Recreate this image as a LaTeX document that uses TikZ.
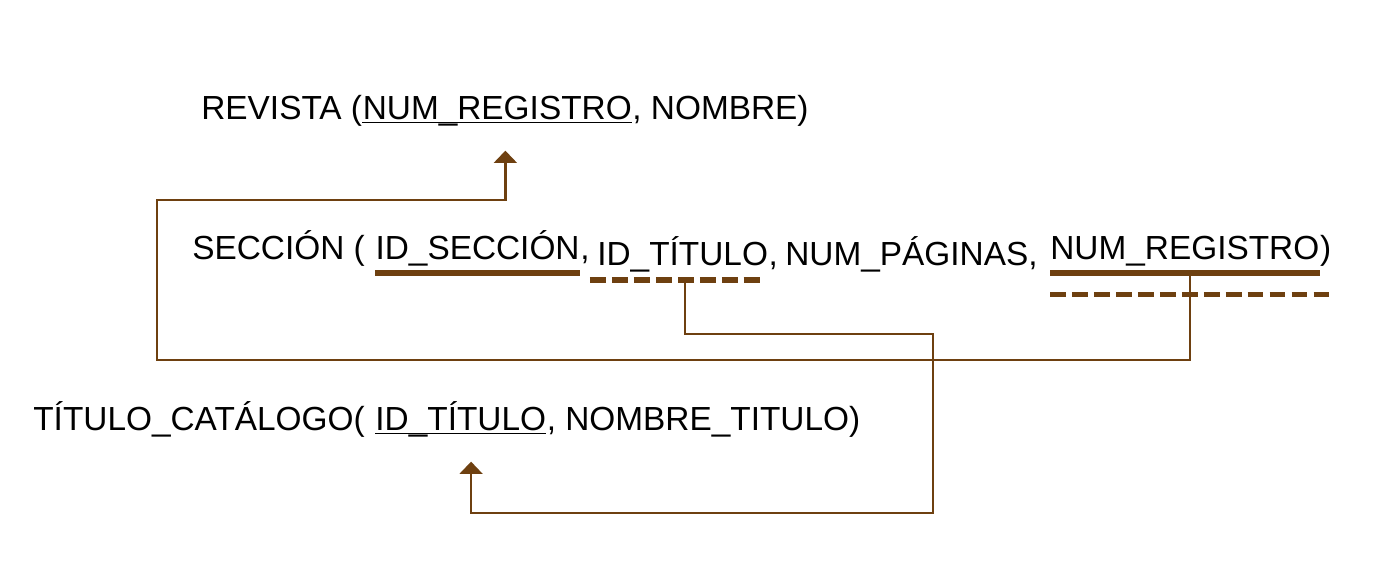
\documentclass[tikz,border=0pt]{standalone}
\usepackage{fontspec}
\setmainfont{Liberation Sans}
\usetikzlibrary{positioning,arrows.meta}
\definecolor{cafe}{RGB}{110,64,16}
\tikzset{
	campo/.style={inner sep=0pt, font=\fontsize{19}{22}\selectfont, anchor=base west},
	enlace/.style={draw=cafe, line width=1.4pt},
	flecha/.style={-{Triangle[length=7pt,width=13pt]}},
	clave/.style={draw=cafe, line width=3pt},
	foranea/.style={draw=cafe, line width=3pt, dash pattern=on 9pt off 3.5pt},
	subraya/.style={draw=black, line width=0.9pt}
}
\begin{document}
\begin{tikzpicture}[x=0.02cm, y=-0.02cm, line join=miter]
	\useasboundingbox (0,0) rectangle (1398,569);
	% REVISTA
	\node[campo] (rev) at (201,119) {REVISTA (};
	\node[campo] (revnum) at (rev.base east) {NUM\_REGISTRO};
	\node[campo] (revfin) at (revnum.base east) {,\ NOMBRE)};
	\draw[subraya] ([yshift=-2pt]revnum.base west) -- ([yshift=-2pt]revnum.base east);
	\path ([yshift=-18pt]revnum.base west) -- coordinate[pos=.53] (revpunta) ([yshift=-18pt]revnum.base east);
	% SECCION
	\node[campo] (sec) at (192,259) {SECCIÓN (\kern.3em};
	\node[campo] (secid) at (sec.base east) {ID\_SECCIÓN};
	\node[campo] (secc) at (secid.base east) {,};
	\node[campo] (sectit) at (597,265) {ID\_TÍTULO};
	\node[campo] (sectc) at (sectit.base east) {,};
	\node[campo] (secpag) at (785,265) {NUM\_PÁGINAS,};
	\node[campo] (secreg) at (1050,259) {NUM\_REGISTRO};
	\node[campo] (secfin) at (secreg.base east) {)};
	\draw[clave] ([yshift=-8pt]secid.base west) -- ([yshift=-8pt]secid.base east);
	\draw[foranea] ([shift={(-4pt,-8.5pt)}]sectit.base west) -- coordinate[pos=.55] (titmid) ([shift={(-3pt,-8.5pt)}]sectit.base east);
	\draw[clave] ([yshift=-8pt]secreg.base west) -- coordinate[pos=.52] (regmid) ([yshift=-8pt]secreg.base east);
	\draw[foranea] ([yshift=-20pt]secreg.base west) -- ([yshift=-20pt]secfin.base east);
	% TITULO_CATALOGO
	\node[campo] (cat) at (33,430) {TÍTULO\_CATÁLOGO(\kern.3em};
	\node[campo] (catid) at (cat.base east) {ID\_TÍTULO};
	\node[campo] (catfin) at (catid.base east) {,\ NOMBRE\_TITULO)};
	\draw[subraya] ([yshift=-2pt]catid.base west) -- ([yshift=-2pt]catid.base east);
	\path ([yshift=-18pt]catid.base west) -- coordinate[pos=.56] (catpunta) ([yshift=-18pt]catid.base east);
	% enlaces
	\coordinate (esq1) at (157,360);
	\coordinate (esq2) at (157,200);
	\coordinate (esq3) at (933,334);
	\coordinate (esq4) at (933,513);
	\draw[enlace, flecha] (regmid) |- (esq1) -- (esq2) -| (revpunta);
	\draw[enlace, flecha] ([yshift=-2pt]titmid) |- (esq3) -- (esq4) -| (catpunta);
\end{tikzpicture}
\end{document}
